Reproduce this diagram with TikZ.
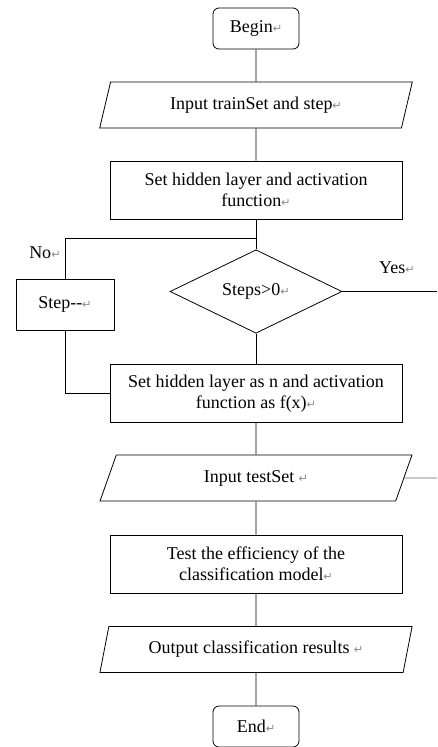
\documentclass[tikz,border=0pt]{standalone}
\usepackage{fontspec}
\setmainfont{Liberation Serif}
\newfontfamily\dejavu{DejaVu Sans}
\usetikzlibrary{shapes.geometric}
\newcommand{\pmark}{{\dejavu\color{black!45}\fontsize{8.5}{9}\selectfont ↵}}

\begin{document}
\begin{tikzpicture}[x=0.75pt,y=-0.75pt,line width=0.6pt,
    every node/.style={font=\rmfamily\fontsize{13.5}{16}\selectfont, align=center},
    term/.style={draw, rounded corners=4.5pt, minimum width=64.5pt, minimum height=30.75pt},
    io/.style={draw, trapezium, trapezium left angle=75, trapezium right angle=105,
      trapezium stretches=true, minimum width=234.75pt, minimum height=34.5pt},
    proc/.style={draw, minimum width=219pt, minimum height=43.5pt},
    cond/.style={draw, diamond, minimum width=129pt, minimum height=59.25pt, inner sep=0pt}]
  \useasboundingbox (0,0) rectangle (437,747);
  \node[term] (begin) at (256,28.5) {Begin\pmark};
  \node[io] (train) at (256,105) {Input trainSet and step\pmark};
  \node[proc] (hidden) at (256,190) {Set hidden layer and activation\\function\pmark};
  \node[cond] (check) at (256,291.5) {Steps>0\pmark};
  \node[draw, minimum width=73.5pt, minimum height=38.25pt] (stepdown) at (65,304.5) {Step-{}-\pmark};
  \node[proc] (hiddenn) at (256,393.5) {Set hidden layer as n and activation\\function as f(x)\pmark};
  \node[io] (test) at (256,478) {Input testSet \pmark};
  \node[proc] (eff) at (256,564) {Test the efficiency of the\\classification model\pmark};
  \node[io] (out) at (256,649.5) {Output classification results \pmark};
  \node[term] (end) at (256,726.5) {End\pmark};
  \node (no) at (45,253) {No\pmark};
  \node (yes) at (397,268) {Yes\pmark};
  \coordinate (join) at (256,238);
  \coordinate (yesend) at (437,291.5);
  \coordinate (testend) at (437,478);
  \draw (begin) -- (train);
  \draw (train) -- (hidden);
  \draw (hidden) -- (check);
  \draw (join) -| (stepdown);
  \draw (check) -- (yesend);
  \draw (check) -- (hiddenn);
  \draw (stepdown) |- (hiddenn);
  \draw (hiddenn) -- (test);
  \draw[black!60] (test) -- (testend);
  \draw (test) -- (eff);
  \draw (eff) -- (out);
  \draw (out) -- (end);
\end{tikzpicture}
\end{document}
